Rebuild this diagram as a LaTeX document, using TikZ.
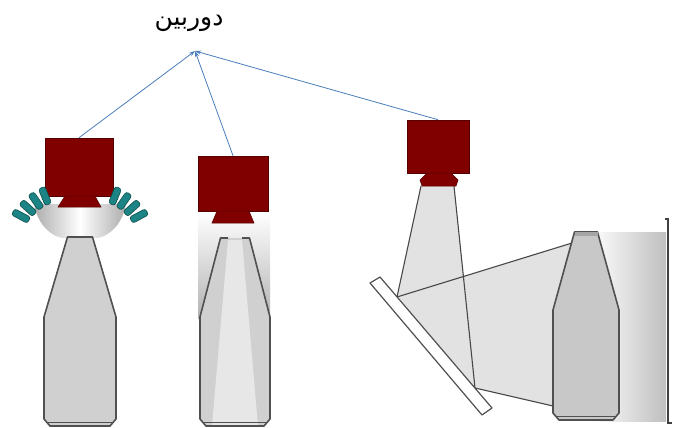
\documentclass[tikz,border=0pt]{standalone}
\usepackage{fontspec}
\newfontfamily\arabicfont[Script=Arabic]{DejaVu Sans}
\TeXXeTstate=1
\usetikzlibrary{arrows.meta}

\definecolor{camred}{RGB}{128,0,0}
\definecolor{camedge}{RGB}{85,0,0}
\definecolor{linkblue}{RGB}{74,126,187}
\definecolor{ledteal}{RGB}{28,132,132}
\definecolor{lededge}{RGB}{12,78,78}
\definecolor{glass}{RGB}{208,208,208}
\definecolor{glassdark}{RGB}{200,200,200}
\definecolor{beam}{RGB}{226,226,226}
\definecolor{outline}{RGB}{80,80,80}

% bottle outline: centre x, neck half width, body half width, neck top y, shoulder y, bottom y
\newcommand\bottleoutline[6]{({#1-#2},{#4}) -- ({#1-#3},{#5}) -- ({#1-#3},{#6-7}) -- ({#1-#3+6},{#6}) -- ({#1+#3-6},{#6}) -- ({#1+#3},{#6-7}) -- ({#1+#3},{#5}) -- ({#1+#2},{#4}) -- cycle}
% line across the base chamfers
\newcommand\bottlebase[3]{\draw[baseline] ({#1-#2+3},{#3-4}) -- ({#1+#2-3},{#3-4});}
% one LED bar: centre x, centre y, angle
\newcommand\ledbar[3]{\filldraw[led, rotate around={#3:(#1,#2)}] ({#1-9},{#2-3.5}) rectangle ({#1+9},{#2+3.5});}

\begin{document}
\begin{tikzpicture}[x=1pt,y=-1pt,
  camera/.style={draw=camedge, fill=camred, line width=0.6pt, inner sep=0pt},
  lens/.style={draw=camedge, fill=camred, line width=0.5pt},
  bottle/.style={fill=glass, draw=outline, line width=1.6pt, line join=round},
  baseline/.style={draw=outline, line width=0.7pt},
  ray/.style={draw=outline!90!black, line width=1.1pt},
  link/.style={draw=linkblue, line width=0.8pt, -{Stealth[length=6pt,width=4pt]}},
  led/.style={fill=ledteal, draw=lededge, line width=0.6pt, rounded corners=2.5pt},
  label/.style={font=\arabicfont\fontsize{25}{30}\selectfont, inner sep=0pt}]
\useasboundingbox (0,0) rectangle (673,428);

% ---------- title and links ----------
\node[label] (title) at (189,23) {\beginR دوربین\endR};
\coordinate (hub) at (195,51);

% ---------- station 1: dome light with LED ring ----------
\node[camera, minimum width=68pt, minimum height=58pt] (cam1) at (79,167) {};
\shade[left color=gray!65, right color=gray!65, middle color=white]
  (34,204) .. controls (38,226) and (52,236) .. (62,238) -- (98,238)
  .. controls (108,236) and (122,226) .. (126,204) -- cycle;
\filldraw[lens] (65,196) -- (95,196) -- (101,207) -- (58,207) -- cycle;
\ledbar{21}{216}{-28}
\ledbar{28}{208}{-42}
\ledbar{36}{201}{-55}
\ledbar{45}{196}{-68}
\ledbar{139}{216}{28}
\ledbar{132}{208}{42}
\ledbar{124}{201}{55}
\ledbar{115}{196}{68}
\draw[bottle] \bottleoutline{80}{12.5}{36}{237}{317}{426};
\bottlebase{80}{36}{426}

% ---------- station 2: axial light through the neck ----------
\node[camera, minimum width=70pt, minimum height=55pt] (cam2) at (233,183.5) {};
\shade[top color=white, bottom color=gray!60] (198,212) rectangle (270,318);
\filldraw[lens] (217,211) -- (249,211) -- (254,223) -- (212,223) -- cycle;
\fill[glass] \bottleoutline{235}{14.5}{35}{238}{317}{426};
\fill[white, opacity=0.5] (228,240) -- (242,240) -- (258,426) -- (212,426) -- cycle;
\draw[bottle, fill=none] (228,238) -- (220.5,238) -- (200,317) -- (200,419) -- (206,426)
  -- (264,426) -- (270,419) -- (270,317) -- (249.5,238) -- (242,238);
\bottlebase{235}{35}{426}

% ---------- station 3: side view via mirror ----------
\node[camera, minimum width=62pt, minimum height=53pt] (cam3) at (438,146.5) {};
\shade[left color=white, right color=gray!50] (590,232) rectangle (666,421);
\fill[beam] (421,186) -- (454,186) -- (475,388) -- (397,297) -- cycle;
\fill[beam] (397,297) -- (572,243) -- (553,406) -- (475,388) -- cycle;
\draw[ray] (421,186) -- (397,297) -- (572,243);
\draw[ray] (454,186) -- (475,388) -- (553,406);
\filldraw[lens] (427,173) -- (451,173) -- (458,180) -- (456,186) -- (422,186) -- (420,180) -- cycle;
\filldraw[fill=white, draw=outline, line width=1.2pt, line join=round]
  (370,283) -- (380,277) -- (492,408) -- (482,415) -- cycle;
\draw[bottle, fill=glassdark] \bottleoutline{586}{11.5}{33}{232}{310}{420};
\fill[gray!70] (574.5,232) rectangle (597.5,236);
\bottlebase{586}{33}{420}
\draw[draw=outline!80!black, line width=1.5pt] (665,219) -- (668,219) -- (668,423) -- (672,423);

% links from each camera to the label
\draw[link] (cam1.north) -- (hub);
\draw[link] (cam2.north) -- (hub);
\draw[link] (cam3.north) -- (hub);
\end{tikzpicture}
\end{document}
